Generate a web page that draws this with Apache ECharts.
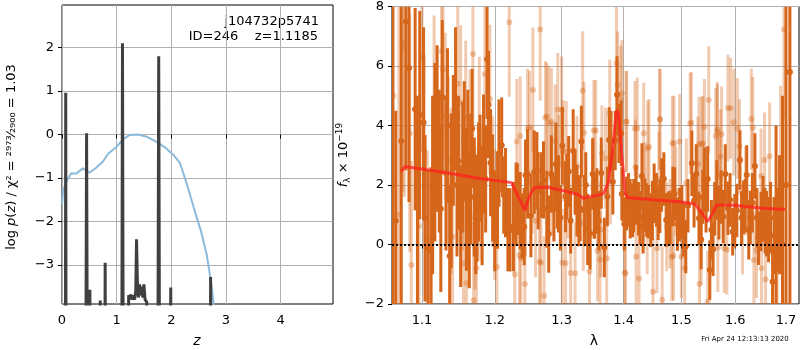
<!DOCTYPE html>
<html>
<head>
<meta charset="utf-8">
<script src="https://cdn.jsdelivr.net/npm/echarts@6/dist/echarts.min.js"></script>
<style>html,body{margin:0;padding:0;background:#fff}#main{width:800px;height:350px}</style>
</head>
<body>
<div id="main"></div>
<script>
// ---- left panel: redshift probability ----
var zTicks = [0, 1, 2, 3, 4];
var logpTicks = [-3, -2, -1, 0, 1, 2];
var zPz = [0, 0.06, 0.068, 0.076, 0.43, 0.45, 0.47, 0.50, 0.51, 0.52, 0.69, 0.70, 0.71, 0.78, 0.79, 0.80,
  1.09, 1.107, 1.125, 1.21, 1.22, 1.24, 1.26, 1.28, 1.30, 1.33, 1.35, 1.364, 1.38, 1.40, 1.42, 1.44,
  1.46, 1.48, 1.50, 1.52, 1.55, 1.58, 1.60, 1.75, 1.77, 1.79, 1.98, 1.99, 2.00, 2.71, 2.72, 2.73, 3.0, 4.96];
var logPz = [-8, -8, 0.96, -8, -8, 0.03, -8, -8, -3.57, -8, -8, -3.82, -8, -8, -2.95, -8,
  -8, 2.1, -8, -8, -3.7, -3.75, -3.68, -3.8, -3.7, -3.8, -3.6, -2.41, -3.4, -3.75, -3.45, -3.7,
  -3.5, -3.75, -3.45, -3.8, -3.85, -8, -8, -8, 1.8, -8, -8, -3.52, -8, -8, -3.28, -8, -8, -8];
var zPrior = [0, 0.02, 0.08, 0.17, 0.26, 0.38, 0.5, 0.62, 0.75, 0.84, 1.0, 1.12, 1.24, 1.39, 1.55,
  1.73, 1.91, 2.04, 2.16, 2.28, 2.37, 2.46, 2.55, 2.65, 2.74, 2.80];
var logPrior = [-1.6, -1.3, -1.08, -0.89, -0.9, -0.78, -0.88, -0.77, -0.62, -0.45, -0.28, -0.11, -0.01, 0.0, -0.05,
  -0.17, -0.32, -0.47, -0.66, -1.12, -1.5, -1.89, -2.25, -2.77, -3.5, -4.2];

// ---- right panel: spectrum ----
var lamTicks = [1.1, 1.2, 1.3, 1.4, 1.5, 1.6, 1.7];
var lamDark = [1.062, 1.066, 1.073, 1.079, 1.083, 1.091, 1.097, 1.102, 1.104, 1.108, 1.112, 1.117, 1.12, 1.123,
  1.127, 1.132, 1.137, 1.142, 1.145, 1.149, 1.152, 1.157, 1.16, 1.164, 1.168, 1.173, 1.175, 1.179, 1.184,
  1.189, 1.191, 1.194, 1.204, 1.206, 1.21, 1.2155, 1.219, 1.222, 1.227, 1.231, 1.237, 1.243, 1.248, 1.253,
  1.258, 1.264, 1.272, 1.277, 1.28, 1.284, 1.291, 1.295, 1.301, 1.306, 1.311, 1.318, 1.324, 1.327, 1.331,
  1.336, 1.341, 1.345, 1.349, 1.356, 1.363, 1.373, 1.376, 1.382, 1.386, 1.389, 1.396, 1.397, 1.405, 1.411,
  1.415, 1.421, 1.425, 1.431, 1.436, 1.442, 1.449, 1.452, 1.459, 1.465, 1.473, 1.48, 1.485, 1.493, 1.501,
  1.508, 1.519, 1.527, 1.532, 1.536, 1.542, 1.548, 1.552, 1.558, 1.565, 1.569, 1.577, 1.586, 1.595, 1.603,
  1.609, 1.616, 1.622, 1.629, 1.638, 1.645, 1.65, 1.658, 1.665, 1.673, 1.68, 1.684, 1.687, 1.693, 1.700, 1.708,
  1.094, 1.114, 1.125, 1.134, 1.139, 1.147, 1.155, 1.162, 1.166, 1.171, 1.177, 1.182, 1.187, 1.197, 1.200,
  1.213, 1.233, 1.240, 1.245, 1.262, 1.269, 1.288, 1.293, 1.298, 1.308, 1.314, 1.321, 1.329, 1.338, 1.352,
  1.359, 1.368, 1.379, 1.392, 1.401, 1.408, 1.417, 1.428, 1.433, 1.439, 1.446, 1.456, 1.462, 1.469, 1.477,
  1.488, 1.497, 1.504, 1.512, 1.523, 1.539, 1.545, 1.555, 1.561, 1.573, 1.581, 1.590, 1.599, 1.612, 1.619,
  1.626, 1.633, 1.642, 1.654, 1.661, 1.669, 1.676];
var fluxDark = [2, 0.8, 3.48, 7.5, 5.93, 4.55, 4.35, 4.1, 0.88, -0.1, -0.2, 3.1, 3.9, 2.8,
  4.95, 2.4, -0.39, 3.5, 4.9, 2.8, 0.57, 3.49, 1.52, 0.73, 3.9, 1.0, 1.22, 2.56, 3.04,
  6.23, 4.71, 2.75, 1.46, 3.07, 3.34, 1.74, 0.5, 0.49, 0.6, 1.36, 1.14, 0.6, 2.37, 0.97,
  2.43, 1.81, 2.17, 1.19, 0.35, 2.37, 2.7, 1.7, 3.32, 1.61, 2.45, 3.15, 1.47, 1.14, 3.46,
  1.14, 0.51, 0.37, 2.37, 1.46, 2.4, 1.61, 3.51, 2.11, 3.5, 5.03, 3.74, 1.7, 1.38, 1.2,
  1.14, 1.66, 1.2, 2.3, 1.33, 1.1, 1.14, 1.72, 1.05, 2.0, 0.82, 0.91, 1.61, 0.69, 1.1,
  -0.07, 2.73, 2.37, 0.88, 0.17, 2.17, 2.2, -0.86, -0.16, 1.83, 1.07, 0.94, 1.22, 0.43, 1.14,
  2.84, 1.25, 2.34, 0.91, 2.64, 0.21, 0.77, 0.8, 0.5, -1.25, 1.0, 0.5, 1.0, 0, 2, 5.8,
  1.5, 2.0, 1.2, 4.0, 1.8, 2.0, 2.6, 3.0, 2.2, 1.6, 2.1, 1.3, 2.2, 1.9, 0.8,
  1.66, 1.52, 0.62, 2.33, 2.48, 2.0, 1.2, 1.64, 0.9, 1.94, 0.8, 2.1, 1.22, 2.0, 1.29,
  0.8, -0.1, 3.49, 3.74, 0.7, 1.5, 1.3, 0.9, 0.6, 1.16, 0.82, 1.5, 1.29, 2.2, 0.88,
  1.7, 1.0, 0.5, 1.3, 1.47, 1.6, 1.3, 0.5, 1.2, 1.6, 2.37, 1.5, 0.8, 0.9, 1.3,
  0.5, 1.4, 0.9, 1.2, 0.7, 0.9, 0.3];
var errDark = [8, 3.7, 6, 5, 4.5, 3.4, 3.5, 3.2, 2.8, 2.6, 2.8, 3, 2.8, 2.4,
  2.6, 2.6, 2.4, 2.2, 2.4, 2.2, 2, 2, 2.4, 2.2, 2, 2, 1.8, 1.8, 2,
  2, 1.8, 1.8, 1.6, 1.8, 1.6, 1.5, 1.4, 1.4, 1.5, 1.4, 1.3, 1.3, 1.5, 1.4,
  1.4, 1.3, 1.3, 1.3, 1.3, 1.3, 1.4, 1.3, 1.3, 1.2, 1.2, 1.4, 1.2, 1.2, 1.2,
  1.2, 1.2, 1.2, 1.2, 1.1, 1.2, 1.0, 1.1, 1.1, 1.0, 1.3, 1.1, 0.9, 0.9, 1.0,
  0.9, 1.0, 0.9, 1.1, 0.9, 0.9, 1.0, 1.0, 0.9, 0.9, 0.9, 0.9, 1.0, 0.9, 0.9,
  0.9, 1.1, 1.0, 0.9, 1.0, 1.1, 1.1, 1.0, 0.9, 1.0, 0.9, 0.9, 0.9, 0.8, 0.9,
  1.0, 0.9, 1.0, 0.9, 1.1, 0.9, 1.0, 1.1, 1.1, 1.2, 3, 1.4, 2, 5, 6, 8,
  3.5, 3, 2.8, 2.6, 2.6, 2.4, 2.2, 2.2, 2.2, 2, 2, 2, 1.8, 1.8, 1.7,
  1.3, 1.2, 1.1, 1.2, 1.3, 1.1, 1.1, 1.1, 1.1, 1.1, 1.1, 1.1, 1.1, 1.1, 1.1,
  1.0, 1.0, 1.0, 1.0, 0.9, 0.9, 0.9, 0.9, 0.9, 0.9, 0.9, 0.9, 0.9, 0.9, 0.9,
  0.9, 0.9, 0.9, 0.9, 0.9, 0.9, 0.9, 1.0, 0.9, 0.9, 1.0, 0.9, 0.9, 0.9, 0.9,
  1.0, 1.0, 1.0, 1.1, 1.1, 1.2, 1.3];
var lamLight = [1.063, 1.070, 1.075, 1.077, 1.084, 1.086, 1.096, 1.100, 1.103, 1.107, 1.116, 1.126, 1.128,
  1.131, 1.135, 1.139, 1.141, 1.148, 1.152, 1.155, 1.156, 1.159, 1.160, 1.165, 1.169, 1.170, 1.172, 1.174,
  1.178, 1.180, 1.186, 1.193, 1.197, 1.200, 1.203, 1.221, 1.229, 1.232, 1.237, 1.238, 1.244, 1.245, 1.248,
  1.251, 1.256, 1.260, 1.266, 1.267, 1.273, 1.275, 1.280, 1.285, 1.290, 1.294, 1.301, 1.302, 1.310, 1.314,
  1.333, 1.335, 1.344, 1.350, 1.351, 1.357, 1.362, 1.370, 1.372, 1.388, 1.390, 1.395, 1.397, 1.402, 1.405,
  1.420, 1.423, 1.426, 1.434, 1.440, 1.443, 1.450, 1.460, 1.462, 1.466, 1.480, 1.484, 1.486, 1.490, 1.497,
  1.500, 1.518, 1.530, 1.532, 1.533, 1.537, 1.542, 1.548, 1.550, 1.563, 1.566, 1.567, 1.570, 1.574, 1.579,
  1.586, 1.597, 1.604, 1.608, 1.614, 1.620, 1.631, 1.634, 1.636, 1.641, 1.650, 1.651, 1.657, 1.659, 1.667,
  1.682, 1.689, 1.696,
  1.277, 1.300, 1.284, 1.307, 1.324, 1.354, 1.364, 1.377, 1.404, 1.419, 1.441, 1.462, 1.487, 1.516, 1.539,
  1.566, 1.591, 1.236, 1.268, 1.306, 1.321, 1.361, 1.403, 1.421, 1.457, 1.483, 1.506, 1.536, 1.584, 1.255,
  1.296, 1.334, 1.378, 1.436, 1.474, 1.509, 1.572];
var fluxLight = [5, 1, 6.77, 6.6, 3.74, -0.69, 0.62, 6.3, 3.18, 0.15, 4.5, 6.5, 5.87,
  4.32, 2.84, 1.8, 0.26, 5.4, 4.77, 2.3, -0.63, 4.25, -1.3, 3.38, 6.4, -1.87, 0.89, -0.8,
  3.91, 1.66, 5.73, 4.89, 2.11, 1.0, -0.76, 7.47, -1.0, 3.46, 3.65, -0.46, -1.33, 1.5, 3.91,
  3.94, 5.19, 0.8, -0.58, 7.23, -1.72, 4.27, 4.1, 2.2, 3.48, 4.54, -0.61, 3.15, 1.9, -0.96,
  5.17, 3.76, -0.91, 1.9, 3.83, -0.21, 0.5, 2.9, -0.46, 6.09, 5.36, 4.88, 5.08, -0.95, 4.13,
  2.6, 3.91, -1.14, 3.74, 0.5, 3.29, -1.59, 2.2, 4.21, -1.86, 0.7, 3.4, -0.38, 1.8, 3.46,
  -0.4, 4.1, 2.7, 3.37, -1.33, 3.37, 3.96, -1.92, 4.86, 3.65, 3.87, -0.1, 2.3, 3.71, -0.13,
  4.59, 4.11, 3.9, 3.29, 0.49, 1.8, 4.22, 3.93, -0.52, -0.2, 2.3, -0.8, 2.84, -1.17, 2.97,
  -0.86, 2.34, 7.23,
  4.3, 4.52, 4.13, 3.12, 2.62, 3.83, 3.07, 4.41, 4.13, 3.9, 3.23, 4.21, 3.4, 4.07, 3.4,
  3.79, 4.58, -0.35, -0.61, -0.63, -0.97, -0.5, -0.97, -0.4, -0.13, -0.41, -0.8, 0.15, -0.18, 2.17,
  2.67, 0.71, 2.28, 1.94, 0.6, 2.06, 2.95];
var errLight = [8, 8, 5, 5, 4, 3.5, 3.5, 3.2, 3.2, 3, 3.2, 3, 3,
  2.8, 2.8, 2.8, 2.8, 2.8, 2.6, 2.5, 2.5, 2.6, 2.6, 2.5, 2.6, 2.6, 2.4, 2.4,
  2.4, 2.2, 2.5, 2.5, 2.2, 2.2, 2.2, 2.5, 2.1, 2.1, 2.0, 2.0, 2.0, 1.9, 2.0,
  1.9, 2.1, 1.9, 1.9, 2.4, 2.0, 1.9, 1.9, 1.9, 1.9, 1.9, 1.8, 1.7, 1.7, 1.8,
  2.0, 1.7, 1.7, 1.7, 1.7, 1.7, 1.6, 1.7, 1.6, 1.9, 1.8, 1.8, 1.8, 1.6, 1.7,
  1.6, 1.7, 1.7, 1.7, 1.5, 1.6, 1.8, 1.6, 1.7, 1.8, 1.5, 1.6, 1.5, 1.5, 1.6,
  1.4, 1.7, 1.6, 1.6, 1.6, 1.6, 1.6, 1.7, 1.8, 1.6, 1.6, 1.5, 1.5, 1.6, 1.5,
  1.8, 1.8, 1.7, 1.6, 1.5, 1.5, 1.7, 1.7, 1.6, 1.6, 1.6, 1.7, 1.6, 1.8, 1.8,
  2.5, 3, 3,
  1.8, 1.8, 1.8, 1.7, 1.7, 1.7, 1.6, 1.8, 1.7, 1.6, 1.6, 1.7, 1.6, 1.7, 1.6,
  1.6, 1.7, 1.8, 1.8, 1.7, 1.7, 1.6, 1.6, 1.6, 1.5, 1.5, 1.6, 1.5, 1.5, 1.8,
  1.7, 1.6, 1.6, 1.5, 1.5, 1.5, 1.6];
var lamModel = [1.0727, 1.0778, 1.1017, 1.1328, 1.1788, 1.2245, 1.2318, 1.2392, 1.2441, 1.2505, 1.2576,
  1.2769, 1.3025, 1.3241, 1.3345, 1.3426, 1.3562, 1.3669, 1.375, 1.3822, 1.3877, 1.3898, 1.392, 1.3971,
  1.4026, 1.4074, 1.4399, 1.4971, 1.5242, 1.5334, 1.548, 1.5573, 1.5647, 1.5904, 1.6546, 1.6981];
var fluxModel = [2.45, 2.62, 2.53, 2.41, 2.22, 2.08, 1.72, 1.38, 1.16, 1.61, 1.91,
  1.93, 1.81, 1.69, 1.55, 1.6, 1.65, 1.72, 2.11, 3.29, 4.41, 4.52, 4.3, 2.95,
  1.72, 1.57, 1.52, 1.44, 1.36, 1.16, 0.77, 1.05, 1.33, 1.33, 1.22, 1.18];

var FONT = 'DejaVu Sans';
var GRIDLINE = {show: true, lineStyle: {color: '#b0b0b0', width: 1}};
var TICK = {show: true, inside: false, length: 4, lineStyle: {color: '#000'}};

function minus(v) { return String(v).replace('-', '\u2212'); }
function lg(v) { return Math.log10(v); }

// error bar + dot, clipped to the plot box
function errorBars(color, alpha, width, radius) {
  return function (params, api) {
    var cs = params.coordSys;
    var lam = api.value(0), f = api.value(1), e = api.value(2);
    var top = api.coord([lam, f + e]), bot = api.coord([lam, f - e]), mid = api.coord([lam, f]);
    var y1 = Math.max(top[1], cs.y), y2 = Math.min(bot[1], cs.y + cs.height);
    var kids = [];
    if (y2 > y1) {
      kids.push({type: 'line', shape: {x1: top[0], y1: y1, x2: top[0], y2: y2},
        style: {stroke: color, lineWidth: width, opacity: alpha}});
    }
    if (mid[1] >= cs.y && mid[1] <= cs.y + cs.height) {
      kids.push({type: 'circle', shape: {cx: mid[0], cy: mid[1], r: radius},
        style: {fill: color, opacity: alpha}});
    }
    return {type: 'group', children: kids};
  };
}

var chart = echarts.init(document.getElementById('main'));
chart.setOption({
  animation: false,
  backgroundColor: '#fff',
  textStyle: {fontFamily: FONT},
  grid: [
    {left: 62, top: 5, width: 271, height: 299, show: true, borderColor: '#000', borderWidth: 1, containLabel: false},
    {left: 392, top: 6, width: 407, height: 298, show: true, borderColor: '#000', borderWidth: 1, containLabel: false}
  ],
  xAxis: [
    {type: 'value', gridIndex: 0, min: 0, max: 4.96,
      axisLine: {show: false}, axisTick: Object.assign({customValues: zTicks}, TICK),
      axisLabel: {customValues: zTicks, color: '#000', fontSize: 13, margin: 10, formatter: minus},
      splitLine: GRIDLINE},
    {type: 'value', gridIndex: 1, min: lg(1.0612), max: lg(1.7267),
      axisLine: {show: false}, axisTick: Object.assign({customValues: lamTicks.map(lg)}, TICK),
      axisLabel: {customValues: lamTicks.map(lg), color: '#000', fontSize: 13, margin: 10,
        formatter: function (v) { return Math.pow(10, v).toFixed(1); }},
      splitLine: GRIDLINE}
  ],
  yAxis: [
    {type: 'value', gridIndex: 0, min: -3.9, max: 2.98,
      axisLine: {show: false}, axisTick: Object.assign({customValues: logpTicks}, TICK),
      axisLabel: {customValues: logpTicks, color: '#000', fontSize: 13, margin: 8, formatter: minus},
      splitLine: GRIDLINE},
    {type: 'value', gridIndex: 1, min: -2, max: 8, interval: 2,
      axisLine: {show: false}, axisTick: TICK,
      axisLabel: {color: '#000', fontSize: 13, margin: 8, formatter: minus},
      splitLine: GRIDLINE}
  ],
  series: [
    {type: 'line', xAxisIndex: 0, yAxisIndex: 0, showSymbol: false, clip: true,
      data: zPrior.map(function (z, i) { return [z, logPrior[i]]; }),
      lineStyle: {color: '#8bbadb', width: 2}},
    {type: 'line', xAxisIndex: 0, yAxisIndex: 0, showSymbol: false, clip: true,
      data: zPz.map(function (z, i) { return [z, logPz[i]]; }),
      lineStyle: {color: '#404040', width: 3}},
    {type: 'custom', xAxisIndex: 1, yAxisIndex: 1, clip: true,
      encode: {x: 0, y: 1},
      renderItem: errorBars('#d6661a', 0.35, 3, 3),
      data: lamLight.map(function (l, i) { return [lg(l), fluxLight[i], errLight[i]]; })},
    {type: 'custom', xAxisIndex: 1, yAxisIndex: 1, clip: true,
      encode: {x: 0, y: 1},
      renderItem: errorBars('#d6661a', 1, 3, 3),
      data: lamDark.map(function (l, i) { return [lg(l), fluxDark[i], errDark[i]]; })},
    {type: 'line', xAxisIndex: 1, yAxisIndex: 1, showSymbol: false, z: 5,
      data: lamModel.map(function (l, i) { return [lg(l), fluxModel[i]]; }),
      lineStyle: {color: '#ff2020', width: 3, opacity: 0.75},
      markLine: {silent: true, symbol: 'none', label: {show: false},
        lineStyle: {color: '#000', type: 'dotted', width: 2, opacity: 1},
        data: [{yAxis: 0}]}}
  ],
  graphic: [
    {type: 'text', right: 481, top: 15, style: {text: 'j104732p5741', font: '13px "DejaVu Sans"', fill: '#000', textAlign: 'right'}},
    {type: 'text', right: 482, top: 30, style: {text: 'ID=246    z=1.1185', font: '13px "DejaVu Sans"', fill: '#000', textAlign: 'right'}},
    {type: 'text', x: 12, y: 157, rotation: Math.PI / 2,
      style: {text: '{t|log }{i|p}{t|(}{i|z}{t|) / \u03c7\u00b2 = \u00b2\u2079\u2077\u00b3\u2044\u2082\u2089\u2080\u2080 = 1.03}',
        align: 'center', verticalAlign: 'middle',
        rich: {
          t: {font: '13px "DejaVu Sans"', fill: '#000'},
          i: {font: 'italic 13px "DejaVu Sans"', fill: '#000'}
        }}},
    {type: 'text', x: 344, y: 155, rotation: Math.PI / 2,
      style: {text: '{i|f}{s|\u03bb}{t| \u00d7 10}{p|\u221219}', align: 'center', verticalAlign: 'middle',
        rich: {
          i: {font: 'italic 13px "DejaVu Sans"', fill: '#000'},
          s: {font: '9px "DejaVu Sans"', fill: '#000', padding: [8, 0, 0, 0]},
          t: {font: '13px "DejaVu Sans"', fill: '#000'},
          p: {font: '9px "DejaVu Sans"', fill: '#000', padding: [0, 0, 8, 0]}
        }}},
    {type: 'text', x: 197, y: 341, style: {text: 'z', font: 'italic 14px "DejaVu Sans"', fill: '#000', align: 'center', verticalAlign: 'middle'}},
    {type: 'text', x: 594, y: 341, style: {text: '\u03bb', font: '14px "DejaVu Sans"', fill: '#000', align: 'center', verticalAlign: 'middle'}},
    {type: 'text', x: 745, y: 339, style: {text: 'Fri Apr 24 12:13:13 2020', font: '7px "DejaVu Sans"', fill: '#000', align: 'center', verticalAlign: 'middle'}}
  ]
});
</script>
</body>
</html>
